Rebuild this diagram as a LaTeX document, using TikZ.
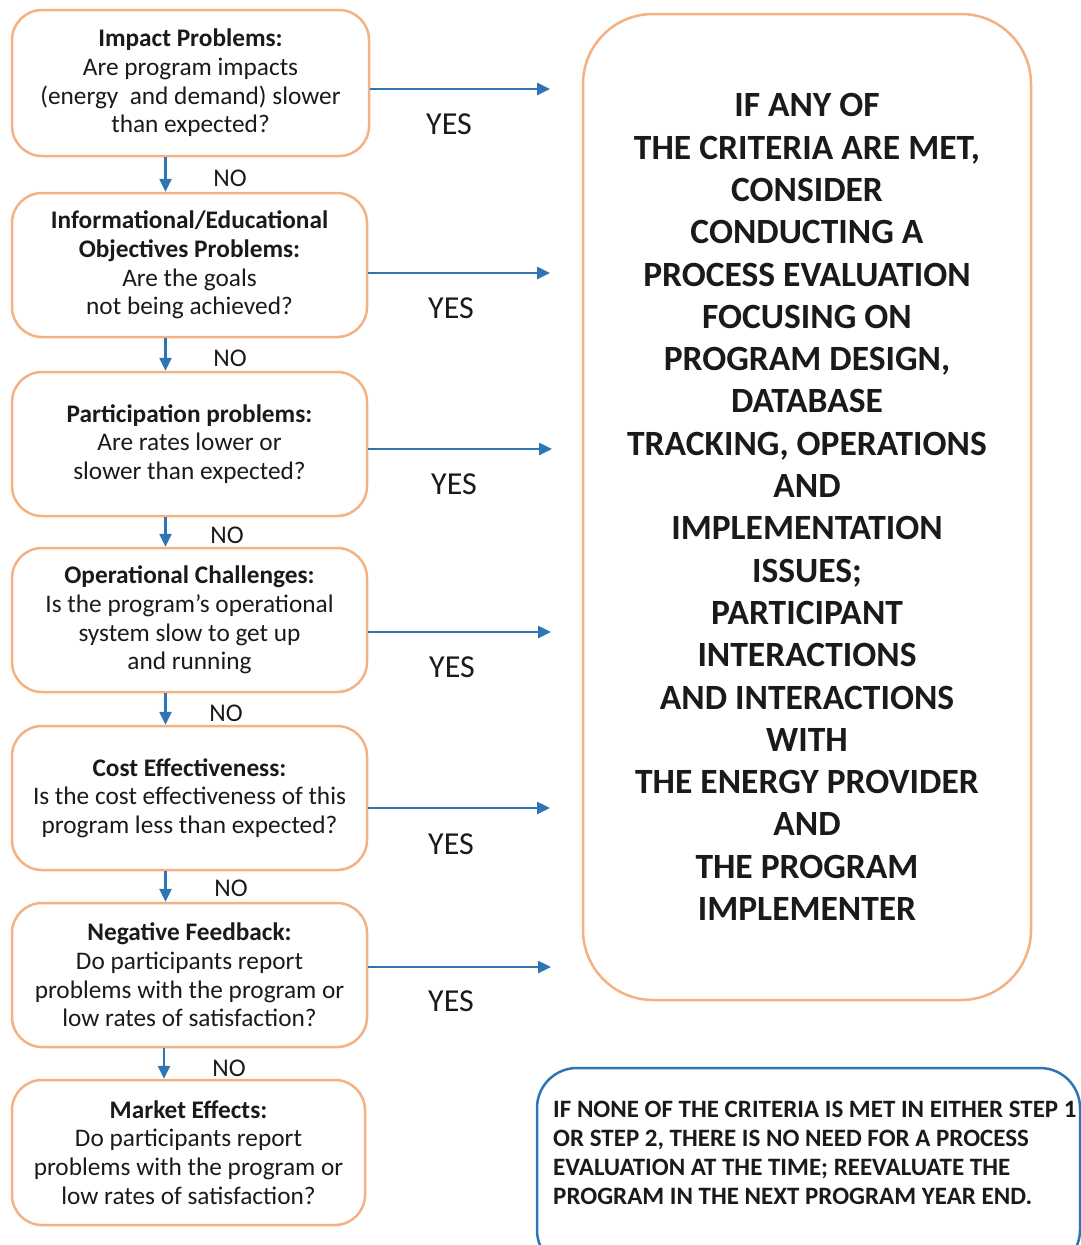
\documentclass[tikz,border=0pt]{standalone}
\usepackage{fontspec}
\setmainfont{Carlito}
\usetikzlibrary{arrows.meta,calc}
\definecolor{boxorange}{HTML}{F4B183}
\definecolor{arrblue}{HTML}{2E75B6}
\definecolor{txt}{HTML}{1A1A1A}
\newcommand\qfont{\fontsize{25.3}{28.7}\selectfont}
\newcommand\bigfont{\fontsize{35.5}{42.3}\selectfont\bfseries}
\newcommand\notefont{\fontsize{25}{29}\selectfont\bfseries}
\newcommand\yesfont{\fontsize{32}{33}\selectfont}
\newcommand\nofont{\fontsize{25.5}{26}\selectfont}
\tikzset{
  qbox/.style={draw=boxorange, line width=2.5pt, rounded corners=30pt,
    minimum width=355pt, minimum height=144pt, align=center, font=\qfont,
    text=txt, inner sep=0pt},
  arr/.style={draw=arrblue, line width=2.5pt, -{Triangle[length=13pt,width=12pt]}},
  yeslbl/.style={font=\yesfont, text=txt, inner sep=0pt},
  nolbl/.style={font=\nofont, text=txt, inner sep=0pt},
}
\begin{document}
\begin{tikzpicture}[x=1pt,y=-1pt]
\useasboundingbox (0,0) rectangle (1081,1245);
% left question boxes
\node[qbox, minimum width=357pt, minimum height=146pt] (b1) at (190.5,83)
  {\textbf{Impact Problems:}\\Are program impacts\\(energy\ \ and demand) slower\\than expected?};
\node[qbox] (b2) at (189.5,265)
  {\textbf{Informational/Educational}\\\textbf{Objectives Problems:}\\Are the goals\\not being achieved?};
\node[qbox] (b3) at (189.5,444)
  {\textbf{Participation problems:}\\Are rates lower or\\slower than expected?};
\node[qbox] (b4) at (189.5,620)
  {\textbf{Operational Challenges:}\\Is the program's operational\\system slow to get up\\and running};
\node[qbox] (b5) at (189.5,798)
  {\textbf{Cost Effectiveness:}\\Is the cost effectiveness of this\\program less than expected?};
\node[qbox] (b6) at (189.5,975)
  {\textbf{Negative Feedback:}\\Do participants report\\problems with the program or\\low rates of satisfaction?};
\node[qbox, minimum width=353pt, minimum height=145pt] (b7) at (188.5,1152.5)
  {\textbf{Market Effects:}\\Do participants report\\problems with the program or\\low rates of satisfaction?};
% big result box
\node[draw=boxorange, line width=2.5pt, rounded corners=70pt, minimum width=448pt,
  minimum height=986pt, align=center, font=\bigfont, text=txt, inner sep=0pt] (res) at (807,507)
  {IF ANY OF\\THE CRITERIA ARE MET,\\CONSIDER\\CONDUCTING A\\PROCESS EVALUATION\\FOCUSING ON\\PROGRAM DESIGN,\\DATABASE\\TRACKING, OPERATIONS\\AND\\IMPLEMENTATION\\ISSUES;\\PARTICIPANT\\INTERACTIONS\\AND INTERACTIONS\\WITH\\THE ENERGY PROVIDER\\AND\\THE PROGRAM\\IMPLEMENTER};
% bottom note box (runs past the picture edge)
\draw[draw=arrblue, line width=2.5pt, rounded corners=40pt] (537,1068) rectangle (1080,1270);
\node[anchor=west, align=left, font=\notefont, text=txt, inner sep=0pt] (note) at (553,1152.5)
  {IF NONE OF THE CRITERIA IS MET IN EITHER STEP 1\\OR STEP 2, THERE IS NO NEED FOR A PROCESS\\EVALUATION AT THE TIME; REEVALUATE THE\\PROGRAM IN THE NEXT PROGRAM YEAR END.};
% NO arrows
\draw[arr] ($(b1.south)+(-25,0)$) -- ($(b2.north)+(-24,0)$);
\draw[arr] ($(b2.south)+(-24,0)$) -- ($(b3.north)+(-24,0)$);
\draw[arr] ($(b3.south)+(-24,0)$) -- ($(b4.north)+(-24,0)$);
\draw[arr] ($(b4.south)+(-24,0)$) -- ($(b5.north)+(-24,0)$);
\draw[arr] ($(b5.south)+(-24,0)$) -- ($(b6.north)+(-24,0)$);
\draw[arr] ($(b6.south)+(-25.5,0)$) -- ($(b7.north)+(-24.5,0)$);
\node[nolbl] (n1) at (230,178) {NO};
\node[nolbl] (n2) at (230,358) {NO};
\node[nolbl] (n3) at (227,535) {NO};
\node[nolbl] (n4) at (226,713) {NO};
\node[nolbl] (n5) at (231,888) {NO};
\node[nolbl] (n6) at (229,1068) {NO};
% YES arrows
\coordinate (e1) at (550,89);
\coordinate (e2) at (550,273);
\coordinate (e3) at (552,449);
\coordinate (e4) at (551,632);
\coordinate (e5) at (550,808);
\coordinate (e6) at (551,967);
\draw[arr] (b1.east |- e1) -- (e1);
\draw[arr] (b2.east |- e2) -- (e2);
\draw[arr] (b3.east |- e3) -- (e3);
\draw[arr] (b4.east |- e4) -- (e4);
\draw[arr] (b5.east |- e5) -- (e5);
\draw[arr] (b6.east |- e6) -- (e6);
\node[yeslbl] (y1) at (449,124) {YES};
\node[yeslbl] (y2) at (451,308) {YES};
\node[yeslbl] (y3) at (454,484) {YES};
\node[yeslbl] (y4) at (452,667) {YES};
\node[yeslbl] (y5) at (451,844) {YES};
\node[yeslbl] (y6) at (451,1001) {YES};
\end{tikzpicture}
\end{document}
